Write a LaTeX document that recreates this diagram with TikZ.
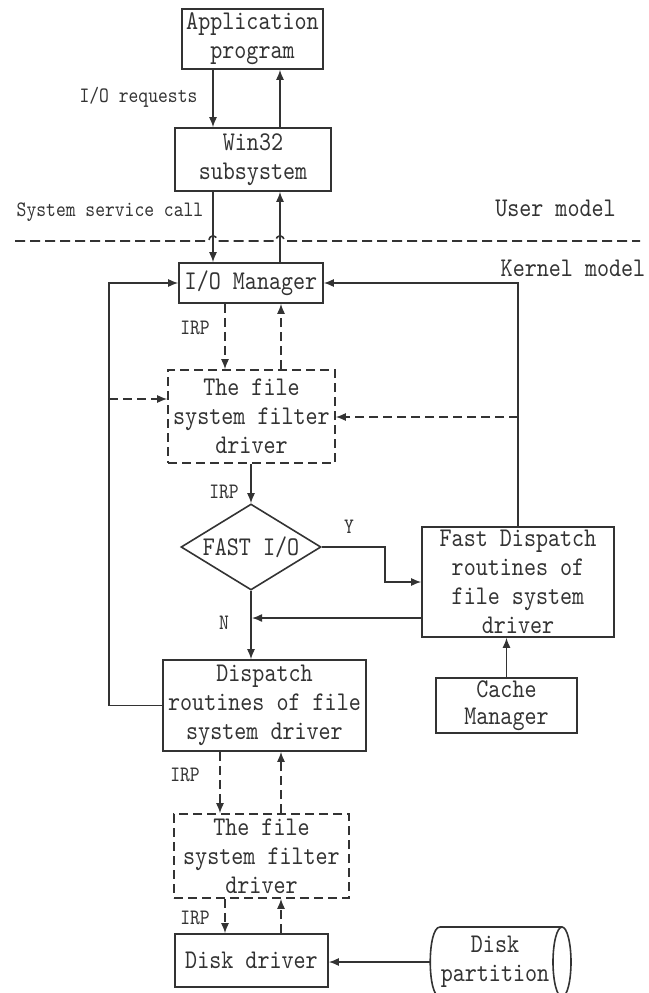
\documentclass[tikz,border=0pt]{standalone}
\usepackage{fontspec}
\newfontfamily\dfont{lmmono10-regular.otf}[FakeStretch=0.85]
\usetikzlibrary{arrows.meta,shapes.geometric}
\definecolor{ink}{HTML}{333333}
\begin{document}
\begin{tikzpicture}[x=1pt,y=-1pt,
  every node/.style={text=ink},
  big/.style={font=\dfont\fontsize{27}{29}\selectfont, align=center, inner sep=0pt},
  small/.style={font=\dfont\fontsize{22}{24}\selectfont, inner sep=0pt},
  box/.style={draw=ink, line width=1.6pt, inner sep=0pt},
  dbox/.style={box, dash pattern=on 9pt off 5pt},
  arr/.style={draw=ink, line width=1.4pt, -{Latex[length=10pt,width=8pt]}},
  darr/.style={arr, dash pattern=on 9pt off 5pt},
  outline/.style={draw=ink, line width=1.6pt},
  sepline/.style={draw=ink, line width=1.6pt, dash pattern=on 10pt off 5pt}]
\useasboundingbox (0,0) rectangle (648,993);

% boxes
\node[box, minimum width=141, minimum height=60] (app) at (252.5,39) {};
\node[big] (appT) at (app) {Application\\program};
\node[box, minimum width=156, minimum height=63] (win) at (253,159.5) {};
\node[big] (winT) at (win) {Win32\\subsystem};
\node[box, minimum width=144, minimum height=40] (iom) at (251,283) {};
\node[big] (iomT) at (iom) {I/O Manager};
\node[dbox, minimum width=167, minimum height=93] (filt1) at (251.5,416.5) {};
\node[big] (filt1T) at (filt1) {The file\\system filter\\driver};
\node[diamond, draw=ink, line width=1.6pt, inner sep=0pt, aspect=1.63, minimum width=140, minimum height=86] (fio) at (251,547) {};
\node[big] (fioT) at (fio) {FAST I/O};
\node[box, minimum width=192, minimum height=110] (fast) at (518,582) {};
\node[big] (fastT) at (fast) {Fast Dispatch\\routines of\\file system\\driver};
\node[box, minimum width=203, minimum height=91] (disp) at (264.5,705.5) {};
\node[big] (dispT) at (disp) {Dispatch\\routines of file\\system driver};
\node[box, minimum width=141, minimum height=55] (cache) at (506.5,705.5) {};
\node[big, font=\dfont\fontsize{27}{27}\selectfont] (cacheT) at (cache) {Cache\\Manager};
\node[dbox, minimum width=175, minimum height=84] (filt2) at (261.5,856) {};
\node[big] (filt2T) at (filt2) {The file\\system filter\\driver};
\node[box, minimum width=153, minimum height=53] (disk) at (251.5,960.5) {};
\node[big] (diskT) at (disk) {Disk driver};

% disk partition (horizontal cylinder)
\node[inner sep=0pt, minimum width=141, minimum height=70, anchor=west] (cyl) at (430,962) {};
\draw[outline] (562,927) -- (440,927) .. controls (427,927) and (427,997) .. (440,997) -- (562,997);
\draw[outline] (562,962) ellipse [x radius=9, y radius=35];
\node[big] (cylT) at (495,962) {Disk\\partition};

% labels
\node[small] (l1) at (138.5,97) {I/O requests};
\node[small] (l2) at (110,212) {System service call};
\node[big] (l3) at (555.5,208) {User model};
\node[big] (l4) at (573,268) {Kernel model};
\node[small] (irp1) at (195,328) {IRP};
\node[small] (irp2) at (224,492) {IRP};
\node[small] (irp3) at (185,775) {IRP};
\node[small] (irp4) at (195,918) {IRP};
\node[small] (ly) at (349,527) {Y};
\node[small] (ln) at (224,623) {N};

% helper coordinates
\coordinate (xa) at (213,0);
\coordinate (xb) at (280,0);
\coordinate (xc) at (225,0);
\coordinate (xd) at (281,0);
\coordinate (xe) at (220,0);
\coordinate (lx) at (109,0);
\coordinate (f1l) at (109,399);
\coordinate (f1r) at (518,417);
\coordinate (yk) at (385,547);
\coordinate (nj) at (252,618);

% user / kernel divider with hops
\draw[sepline] (15,241) -- (209,241) .. controls (209,234) and (217,234) .. (217,241)
  -- (276,241) .. controls (276,234) and (284,234) .. (284,241) -- (640,241);

% connectors
\draw[arr] (app.south -| xa) -- (win.north -| xa);
\draw[arr] (win.north -| xb) -- (app.south -| xb);
\draw[arr] (win.south -| xa) -- (iom.north -| xa);
\draw[arr] (iom.north -| xb) -- (win.south -| xb);
\draw[darr] (iom.south -| xc) -- (filt1.north -| xc);
\draw[darr] (filt1.north -| xd) -- (iom.south -| xd);
\draw[arr] (disp.west) -- (disp.west -| lx) -- (iom.west -| lx) -- (iom.west);
\draw[arr] (fast.north) |- (iom.east);
\draw[darr] (f1l) -- (f1l -| filt1.west);
\draw[darr] (f1r) -- (f1r -| filt1.east);
\draw[arr] (fio.north |- filt1.south) -- (fio.north);
\draw[arr] (fio.east) -- (yk) |- (fast.west);
\draw[arr] (nj -| fast.west) -- (nj);
\draw[arr] (fio.south) -- (fio.south |- disp.north);
\draw[arr] (cache.north) -- (cache.north |- fast.south);
\draw[darr] (disp.south -| xe) -- (filt2.north -| xe);
\draw[darr] (filt2.north -| xd) -- (disp.south -| xd);
\draw[darr] (filt2.south -| xc) -- (disk.north -| xc);
\draw[darr] (disk.north -| xd) -- (filt2.south -| xd);
\draw[arr] (cyl.west) -- (cyl.west -| disk.east);
\end{tikzpicture}
\end{document}
